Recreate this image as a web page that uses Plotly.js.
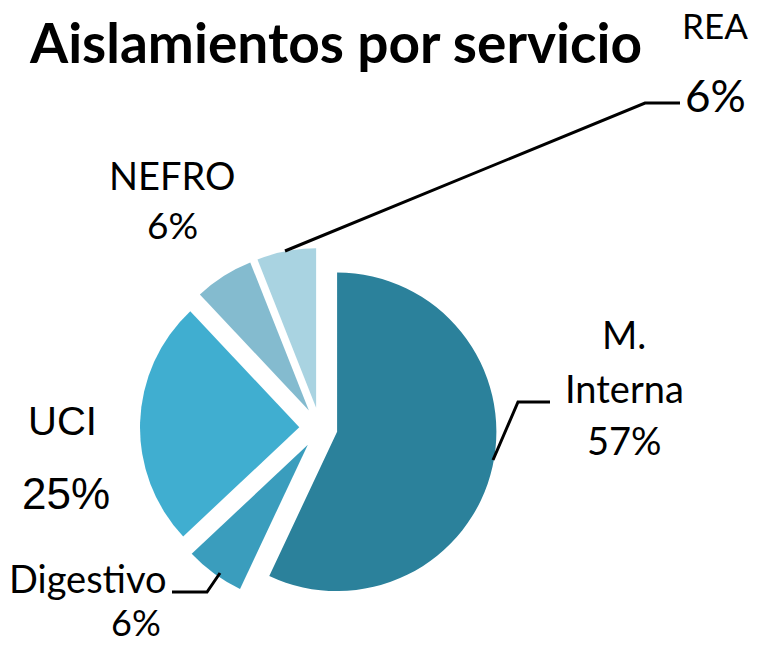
<!DOCTYPE html>
<html>
<head>
<meta charset="utf-8">
<script src="https://cdn.plot.ly/plotly-3.0.1.min.js"></script>
<style>html,body{margin:0;padding:0;background:#fff}#chart{width:765px;height:645px}</style>
</head>
<body>
<div id="chart"></div>
<script>
// Data
const categories = ["M. Interna", "Digestivo", "UCI", "NEFRO", "REA"];
const values = [57, 6, 25, 6, 6];
const pctLabels = ["57%", "6%", "25%", "6%", "6%"];
const sliceColors = ["#2b819b", "#3a9dbd", "#40aed0", "#84bbcf", "#a9d3e1"];
const pulls = [0.11, 0.13, 0.13, 0.13, 0.13];

const W = 765, H = 645;
const px = x => x / W;
const py = y => 1 - y / H;

const trace = {
  type: "pie",
  labels: categories,
  values: values,
  sort: false,
  direction: "clockwise",
  rotation: 0,
  pull: pulls,
  textinfo: "none",
  hoverinfo: "label+percent",
  marker: { colors: sliceColors, line: { width: 0 } },
  domain: { x: [px(140), px(500)], y: [py(608), py(248)] },
  showlegend: false
};

const calib = "Lato, 'Open Sans', sans-serif";
const arial = "'Liberation Sans', Arial, sans-serif";
function ann(text, x, y, size, family) {
  return { text: text, x: px(x), y: py(y), xref: "paper", yref: "paper",
    showarrow: false, xanchor: "center", yanchor: "middle",
    font: { family: family || calib, size: size, color: "#000" } };
}

const annotations = [
  ann("REA", 715, 25, 35),
  ann(pctLabels[4], 715, 95, 44),
  ann("NEFRO", 172, 175, 38),
  ann(pctLabels[3], 172, 225, 37),
  ann("M.", 624, 334, 38),
  ann("Interna", 624, 388, 38),
  ann(pctLabels[0], 624, 440, 38),
  ann("UCI", 62, 421, 40, arial),
  ann(pctLabels[2], 66, 493, 44, arial),
  ann("Digestivo", 88, 578, 38),
  ann(pctLabels[1], 136, 622, 36)
];

function path(pts) {
  return { type: "path", xref: "paper", yref: "paper",
    path: pts.map((p, i) => (i ? "L" : "M") + px(p[0]) + "," + py(p[1])).join(" "),
    line: { color: "#000", width: 3 } };
}
const shapes = [
  path([[285, 251], [645, 103], [680, 103]]),
  path([[493, 460], [518, 402], [550, 402]]),
  path([[220, 573], [207, 592], [172, 592]])
];

const layout = {
  width: W, height: H,
  margin: { l: 0, r: 0, t: 0, b: 0 },
  paper_bgcolor: "#fff",
  title: { text: "<b>Aislamientos por servicio</b>", x: px(336), xanchor: "center",
    y: py(44), yanchor: "middle", font: { family: calib, size: 55, color: "#000" } },
  annotations: annotations,
  shapes: shapes
};

Plotly.newPlot("chart", [trace], layout, { displayModeBar: false, staticPlot: true });
</script>
</body>
</html>
